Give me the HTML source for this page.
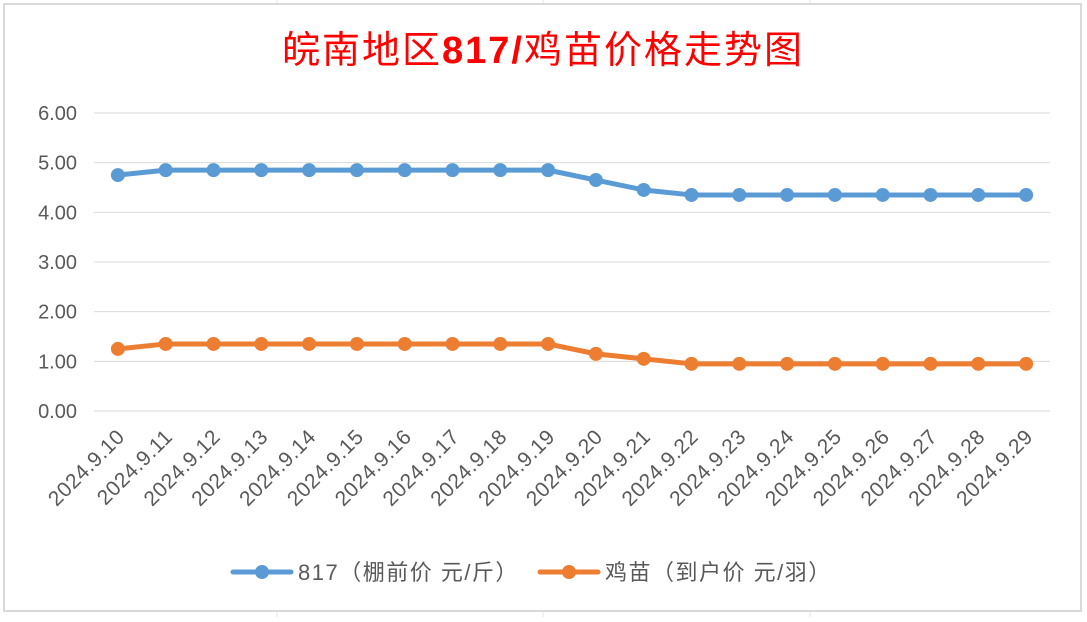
<!DOCTYPE html>
<html><head><meta charset="utf-8"><style>
body{margin:0;width:1087px;height:617px;background:#fff;overflow:hidden;font-family:"Liberation Sans","Noto Sans CJK SC",sans-serif;}
</style></head><body>
<svg id="c" width="1087" height="617" xmlns="http://www.w3.org/2000/svg">
<g stroke="#e3e3e3" stroke-width="1">
<line x1="277" y1="0" x2="277" y2="617"/><line x1="543" y1="0" x2="543" y2="617"/><line x1="810" y1="0" x2="810" y2="617"/>
</g>
<rect x="4" y="4" width="1077" height="607" fill="#fff" stroke="#d9d9d9" stroke-width="2"/>
<text x="543" y="63" text-anchor="middle" font-size="38" letter-spacing="2" fill="#ff0000">皖南地区<tspan font-weight="bold">817/</tspan>鸡苗价格走势图</text>
<g id="grid"></g><g id="ylab"></g><g id="xlab"></g><g id="series"></g>
<g>
<g>
<line x1="233" y1="572" x2="291" y2="572" stroke="#5b9bd5" stroke-width="5" stroke-linecap="round"/><circle cx="262" cy="572" r="7" fill="#5b9bd5"/>
<text x="298" y="580" font-size="22" letter-spacing="1.5" fill="#595959">817（棚前价 元/斤）</text></g>
<g>
<line x1="540" y1="572" x2="598" y2="572" stroke="#ed7d31" stroke-width="5" stroke-linecap="round"/><circle cx="569" cy="572" r="7" fill="#ed7d31"/>
<text x="605" y="580" font-size="22" letter-spacing="1.5" fill="#595959">鸡苗（到户价 元/羽）</text></g>
</g>
</svg>
<script>
const categories=["2024.9.10","2024.9.11","2024.9.12","2024.9.13","2024.9.14","2024.9.15","2024.9.16","2024.9.17","2024.9.18","2024.9.19","2024.9.20","2024.9.21","2024.9.22","2024.9.23","2024.9.24","2024.9.25","2024.9.26","2024.9.27","2024.9.28","2024.9.29"];
const s817=[4.75,4.85,4.85,4.85,4.85,4.85,4.85,4.85,4.85,4.85,4.65,4.45,4.35,4.35,4.35,4.35,4.35,4.35,4.35,4.35];
const sChick=[1.25,1.35,1.35,1.35,1.35,1.35,1.35,1.35,1.35,1.35,1.15,1.05,0.95,0.95,0.95,0.95,0.95,0.95,0.95,0.95];
const yTicks=[0,1,2,3,4,5,6];
const NS="http://www.w3.org/2000/svg";
const L=94,R=1050,T=113,B=411,yMax=6;
const y=v=>B-(v/yMax)*(B-T);
const bw=(R-L)/categories.length;
const x=i=>L+bw*(i+0.5);
function mk(t,a,p){const e=document.createElementNS(NS,t);for(const k in a)e.setAttribute(k,a[k]);p.appendChild(e);return e;}
const grid=document.getElementById('grid'),yl=document.getElementById('ylab'),xl=document.getElementById('xlab'),sg=document.getElementById('series');
yTicks.forEach(v=>{
 const g=mk('line',{x1:L,x2:R,y1:y(v),y2:y(v),stroke:'#d9d9d9','stroke-width':1},grid);
 
 
 const t=mk('text',{x:77,y:y(v)+7,'text-anchor':'end','font-size':20,fill:'#595959'},yl);
 t.textContent=v.toFixed(2);
 
 
});
categories.forEach((c,i)=>{
 const t=mk('text',{x:0,y:0,'text-anchor':'end','font-size':21,'letter-spacing':0.5,fill:'#595959',transform:`translate(${x(i)+8},${y(0)+27}) rotate(-45)`},xl);
 t.textContent=c;
 
 
});
[[s817,'#5b9bd5','series-817'],[sChick,'#ed7d31','series-chick']].forEach(([d,col,n])=>{
 const g=mk('g',{},sg);
 
 
 const p=mk('polyline',{points:d.map((v,i)=>x(i)+','+y(v)).join(' '),fill:'none',stroke:col,'stroke-width':5,'stroke-linejoin':'round'},g);
 
 
 d.forEach((v,i)=>{
  const m=mk('circle',{cx:x(i),cy:y(v),r:7,fill:col},g);
  
  
 });
});
</script>
</body></html>
